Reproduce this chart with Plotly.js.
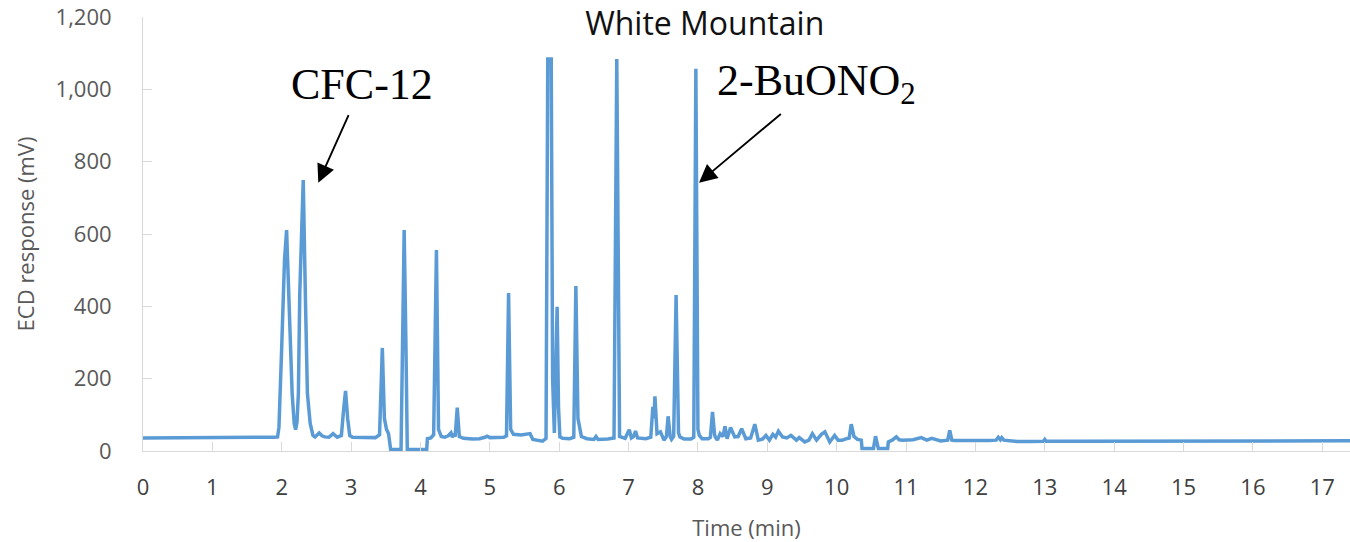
<!DOCTYPE html>
<html>
<head>
<meta charset="utf-8">
<script src="https://cdn.plot.ly/plotly-3.0.1.min.js"></script>
<style>html,body{margin:0;padding:0;background:#fff;}#chart{width:1350px;height:542px;}</style>
</head>
<body>
<div id="chart"></div>
<script>
// Retention time (min)
var timeMin = [
 0.00,0.80,1.60,1.70,1.90,1.94,1.96,2.00,2.02,2.04,2.07,2.09,2.12,2.15,2.18,2.20,2.22,2.24,2.26,2.31,
 2.34,2.37,2.41,2.45,2.48,2.54,2.58,2.62,2.68,2.74,2.80,2.86,2.89,2.92,2.95,2.98,3.02,3.20,3.35,3.41,
 3.45,3.48,3.51,3.54,3.56,3.57,3.72,3.745,3.765,3.79,3.81,4.09,4.10,4.15,4.19,4.23,4.26,4.30,4.35,4.40,
 4.44,4.46,4.48,4.50,4.53,4.56,4.62,4.75,4.85,4.93,4.96,5.00,5.10,5.20,5.24,5.27,5.30,5.34,5.45,5.53,
 5.58,5.62,5.70,5.76,5.81,5.835,5.885,5.905,5.93,5.955,5.97,5.99,6.01,6.05,6.15,6.21,6.24,6.27,6.29,6.32,
 6.40,6.50,6.53,6.56,6.70,6.79,6.83,6.87,6.95,7.01,7.04,7.07,7.10,7.13,7.25,7.32,7.35,7.365,7.38,7.41,
 7.46,7.51,7.545,7.57,7.60,7.62,7.65,7.685,7.72,7.74,7.80,7.90,7.94,7.97,8.00,8.02,8.06,8.15,8.18,8.21,
 8.24,8.25,8.28,8.32,8.36,8.39,8.42,8.47,8.53,8.58,8.63,8.69,8.76,8.82,8.87,8.93,8.98,9.03,9.08,9.12,
 9.16,9.22,9.28,9.34,9.42,9.46,9.54,9.60,9.65,9.71,9.78,9.83,9.90,9.97,10.02,10.08,10.14,10.18,10.21,10.25,
 10.30,10.355,10.365,10.53,10.56,10.60,10.735,10.745,10.80,10.86,10.90,10.95,11.10,11.22,11.30,11.37,11.50,11.60,11.63,11.66,
 11.70,12.00,12.20,12.30,12.33,12.36,12.38,12.41,12.45,12.60,12.80,12.98,13.00,13.02,13.50,14.00,14.50,15.00,15.50,16.00,
 16.50,17.00,17.40
];
// ECD response (mV)
var ecdResponse = [
 36,36,36,37,38,39,66,290,400,528,611,482,298,159,76,59,80,159,436,749,
 436,159,76,43,39,50,42,39,38,48,38,43,110,166,90,43,38,37,37,45,
 285,90,60,48,20,4,4,300,611,300,4,4,34,36,45,556,60,40,38,42,
 50,38,48,40,120,40,35,33,34,38,41,37,38,38,42,437,60,46,44,46,
 48,32,28,27,35,1084,1084,200,50,250,399,120,39,35,34,38,456,90,67,40,
 34,32,40,32,33,36,1084,40,35,59,36,40,55,36,34,38,122,90,151,48,
 53,30,40,96,40,32,40,431,50,39,33,33,38,1057,60,43,34,34,38,108,
 45,39,30,48,40,68,34,65,39,40,62,34,36,74,30,33,43,30,46,38,
 55,39,36,43,30,37,25,30,48,30,46,53,25,43,30,30,34,36,74,40,
 32,30,7,7,41,7,7,25,30,39,31,30,31,37,30,35,28,30,57,30,
 29,28,29,30,38,31,37,30,29,26,26,27,32,27,27,27,27,27,28,28,
 28,28,28
];
var xTickVals = [0,1,2,3,4,5,6,7,8,9,10,11,12,13,14,15,16,17];
var yTickVals = [0,200,400,600,800,1000,1200];

var trace = {
  x: timeMin, y: ecdResponse, type: 'scatter', mode: 'lines',
  line: {color: '#5B9BD5', width: 3.5}, hoverinfo: 'skip', showlegend: false
};

var axisFont = {family: 'Open Sans, sans-serif', size: 22, color: '#595959'};
var serif = {family: 'Liberation Serif, Times New Roman, serif', size: 44, color: '#000'};
var layout = {
  width: 1350, height: 542,
  margin: {l: 143, r: 0, t: 17, b: 91},
  paper_bgcolor: '#ffffff', plot_bgcolor: '#ffffff',
  title: {text: 'White Mountain', x: 0.522, xref: 'container', xanchor: 'center',
          y: 0.956, yref: 'container', yanchor: 'middle',
          font: {family: 'Open Sans, sans-serif', size: 32, color: '#111111'}},
  xaxis: {
    range: [0, 17.4], tickvals: xTickVals, showgrid: false, zeroline: false,
    showline: true, linecolor: '#D9D9D9', linewidth: 1,
    ticks: 'inside', ticklen: 9, tickcolor: '#D9D9D9', tickwidth: 1,
    tickfont: {family: 'Open Sans, sans-serif', size: 22, color: '#404040'},
    ticklabelstandoff: 17,
    title: {text: 'Time (min)', font: axisFont, standoff: 21}
  },
  yaxis: {
    range: [0, 1200], tickvals: yTickVals, tickformat: ',d', showgrid: false, zeroline: false,
    showline: true, linecolor: '#D9D9D9', linewidth: 1,
    ticks: 'inside', ticklen: 9, tickcolor: '#D9D9D9', tickwidth: 1,
    tickfont: {family: 'Open Sans, sans-serif', size: 22, color: '#595959'},
    ticklabelstandoff: 26,
    title: {text: 'ECD response (mV)', font: axisFont, standoff: 14}
  },
  annotations: [
    {text: 'CFC-12', x: 2.527, y: 742, xref: 'x', yref: 'y', showarrow: true, ax: 44, ay: -98,
     arrowhead: 2, arrowsize: 1.9, arrowwidth: 1.9, arrowcolor: '#000', startstandoff: 5, font: serif},
    {text: '2-BuONO<sub>2</sub>', x: 8.015, y: 742, xref: 'x', yref: 'y', showarrow: true, ax: 118, ay: -99,
     arrowhead: 2, arrowsize: 1.9, arrowwidth: 1.9, arrowcolor: '#000', startstandoff: 2, font: serif}
  ]
};

Plotly.newPlot('chart', [trace], layout, {staticPlot: true, displayModeBar: false});
</script>
</body>
</html>
